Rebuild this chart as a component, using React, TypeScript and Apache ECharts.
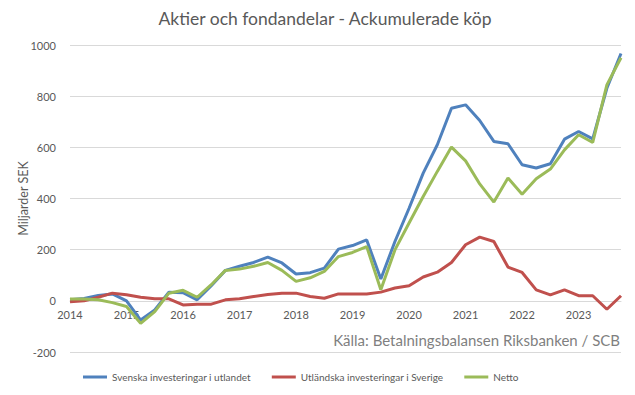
import React, { useEffect, useRef } from "react";
import * as echarts from "echarts";

const quarters = [
  "2014K1", "2014K2", "2014K3", "2014K4",
  "2015K1", "2015K2", "2015K3", "2015K4",
  "2016K1", "2016K2", "2016K3", "2016K4",
  "2017K1", "2017K2", "2017K3", "2017K4",
  "2018K1", "2018K2", "2018K3", "2018K4",
  "2019K1", "2019K2", "2019K3", "2019K4",
  "2020K1", "2020K2", "2020K3", "2020K4",
  "2021K1", "2021K2", "2021K3", "2021K4",
  "2022K1", "2022K2", "2022K3", "2022K4",
  "2023K1", "2023K2", "2023K3", "2023K4",
];

const svenska = [
  4, 9, 21, 27, 0, -75, -36, 34, 32, 4, 59, 119, 135, 150, 171, 148, 105, 110, 128, 202,
  216, 238, 85, 232, 362, 499, 610, 753, 766, 705, 623, 614, 532, 519, 536, 632, 662, 633, 831, 967,
];

const utlandska = [
  -4, 0, 14, 30, 24, 14, 8, 8, -16, -13, -13, 4, 8, 17, 25, 30, 30, 17, 10, 27,
  27, 27, 34, 50, 59, 93, 112, 150, 219, 249, 232, 132, 111, 43, 23, 43, 20, 20, -33, 20,
];

const netto = [
  7, 7, 4, -7, -22, -88, -42, 30, 41, 14, 63, 119, 124, 135, 150, 119, 76, 90, 115, 173,
  189, 212, 43, 199, 304, 408, 506, 601, 547, 457, 386, 480, 417, 477, 515, 590, 649, 619, 844, 950,
];

const seriesNames = [
  "Svenska investeringar i utlandet",
  "Utländska investeringar i Sverige",
  "Netto",
];

const titleText = "Aktier och fondandelar - Ackumulerade köp";
const yAxisName = "Miljarder SEK";
const sourceText = "Källa: Betalningsbalansen Riksbanken / SCB";

const FONT = "Lato, 'Open Sans', sans-serif";
const TXT = "#595959";

export default function App() {
  const ref = useRef<HTMLDivElement>(null);
  useEffect(() => {
    if (!ref.current) return;
    const chart = echarts.init(ref.current, null, { renderer: "svg" });
    const mk = (name: string, data: number[], color: string) => ({
      name,
      type: "line",
      data,
      showSymbol: false,
      symbol: "none",
      lineStyle: { color, width: 3 },
      itemStyle: { color },
    });
    chart.setOption({
      animation: false,
      backgroundColor: "#ffffff",
      textStyle: { fontFamily: FONT },
      title: {
        text: titleText,
        left: 320,
        textAlign: "center",
        top: 4,
        textStyle: { fontFamily: FONT, fontSize: 17.5, fontWeight: "normal", color: TXT },
      },
      grid: { left: 70, right: 14, top: 45, bottom: 43, containLabel: false },
      legend: {
        top: 367,
        left: 78,
        icon: "rect",
        itemWidth: 24,
        itemHeight: 3,
        itemGap: 21,
        textStyle: { fontFamily: FONT, fontSize: 10, color: TXT },
        data: seriesNames,
      },
      xAxis: {
        type: "category",
        data: quarters,
        boundaryGap: false,
        offset: -51,
        axisLine: { onZero: false, lineStyle: { color: "#d9d9d9", width: 1 } },
        axisTick: { show: false },
        axisLabel: {
          interval: 3,
          color: TXT,
          fontSize: 11,
          fontFamily: FONT,
          margin: 8,
          formatter: (v: string) => v.slice(0, 4),
        },
        splitLine: { show: false },
      },
      yAxis: {
        type: "value",
        min: -200,
        max: 1000,
        interval: 200,
        name: yAxisName,
        nameLocation: "middle",
        nameGap: 40,
        nameMoveOverlap: false,
        nameRotate: 90,
        nameTextStyle: { color: TXT, fontSize: 12.5, fontFamily: FONT },
        axisLine: { show: false },
        axisTick: { show: false },
        axisLabel: {
          color: TXT,
          fontSize: 11,
          fontFamily: FONT,
          margin: 14,
          formatter: (v: number) => String(v),
        },
        splitLine: { lineStyle: { color: "#d9d9d9", width: 1 } },
      },
      graphic: [
        {
          type: "text",
          right: 15,
          top: 332,
          style: { text: sourceText, fill: "#7f7f7f", fontSize: 15, fontFamily: FONT },
        },
      ],
      series: [
        mk(seriesNames[0], svenska, "#4f81bd"),
        mk(seriesNames[1], utlandska, "#c0504d"),
        mk(seriesNames[2], netto, "#9bbb59"),
      ],
    });
    return () => chart.dispose();
  }, []);
  return (
    <div
      ref={ref}
      style={{ position: "fixed", left: 0, top: 0, width: 635, height: 395 }}
    />
  );
}
